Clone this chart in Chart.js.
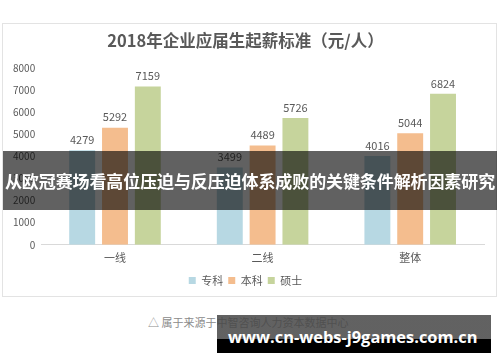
<!DOCTYPE html>
<html>
<head>
<meta charset="utf-8">
<script src="https://cdn.jsdelivr.net/npm/chart.js@4"></script>
<style>
  body { margin: 0; background: #fff; width: 500px; height: 362px; overflow: hidden; position: relative; font-family: "Noto Sans CJK SC", sans-serif; }
  #box { position: absolute; left: 2px; top: 23px; width: 493px; height: 272px; border: 1px solid #e3e3e3; }
  #box canvas { display: block; }
  #banner { position: absolute; left: 3px; top: 151px; width: 494px; height: 59px; background: rgba(0,0,0,0.62);
    color: #fff; font-weight: bold; font-size: 17px; line-height: 59px; text-align: center; white-space: nowrap; letter-spacing: -0.1px; }
  #caption { position: absolute; left: 148px; top: 314px; font-size: 11px; color: #8a8a8a; white-space: nowrap; }
  #url { position: absolute; left: 217px; top: 315px; width: 274px; height: 38px;
    background: linear-gradient(to bottom, rgba(70,70,70,0.85) 0, rgba(70,70,70,0.85) 24px, #000 24px, #000 100%); }
  #url span { position: absolute; left: 11px; top: 12px; color: #fff; font-family: "Open Sans", sans-serif; font-weight: bold; font-size: 16.4px; line-height: 20px; white-space: nowrap; }
</style>
</head>
<body>
<div id="box"><canvas id="chart" width="493" height="272"></canvas></div>
<div id="banner">从欧冠赛场看高位压迫与反压迫体系成败的关键条件解析因素研究</div>
<div id="caption">△ 属于来源于中智咨询人力资本数据中心</div>
<div id="url"><span>www.cn-webs-j9games.com.cn</span></div>
<script>
const categories = ["一线", "二线", "整体"];
const seriesNames = ["专科", "本科", "硕士"];
const zhuanke = [4279, 3499, 4016];
const benke = [5292, 4489, 5044];
const shuoshi = [7159, 5726, 6824];
const colors = ["#b7d8e3", "#f4bd8e", "#c6d49c"];

const font = "'Noto Sans CJK SC', sans-serif";

// draws the value above each bar
const valueLabels = {
  id: "valueLabels",
  afterDatasetsDraw(chart) {
    const ctx = chart.ctx;
    ctx.save();
    ctx.font = "11px " + font;
    ctx.fillStyle = "#595959";
    ctx.textAlign = "center";
    ctx.textBaseline = "bottom";
    chart.data.datasets.forEach((ds, i) => {
      chart.getDatasetMeta(i).data.forEach((bar, j) => {
        ctx.fillText(ds.data[j], bar.x, bar.y - 5);
      });
    });
    ctx.restore();
  },
};

new Chart(document.getElementById("chart").getContext("2d"), {
  type: "bar",
  data: {
    labels: categories,
    datasets: [zhuanke, benke, shuoshi].map((d, i) => ({
      label: seriesNames[i],
      data: d,
      backgroundColor: colors[i],
      barPercentage: 0.79,
      categoryPercentage: 0.667,
    })),
  },
  options: {
    responsive: false,
    animation: false,
    layout: { padding: { left: 4, right: 12, top: 0, bottom: 0 } },
    plugins: {
      title: {
        display: true,
        text: "2018年企业应届生起薪标准（元/人）",
        color: "#595959",
        font: { family: font, size: 16.5, weight: "bold" },
        padding: { top: 7, bottom: 17 },
      },
      legend: {
        position: "bottom",
        labels: {
          boxWidth: 7,
          boxHeight: 7,
          color: "#595959",
          font: { family: font, size: 11 },
          padding: 5,
        },
      },
      tooltip: { enabled: false },
    },
    scales: {
      x: {
        grid: { display: false, drawTicks: false },
        border: { color: "#d9d9d9" },
        ticks: { color: "#595959", font: { family: font, size: 11 }, padding: 6 },
      },
      y: {
        min: 0,
        max: 8000,
        grid: { display: false, drawTicks: false },
        border: { display: false },
        ticks: {
          stepSize: 1000,
          color: "#595959",
          font: { family: font, size: 10 },
          padding: 6,
          callback: (v) => String(v),
        },
      },
    },
  },
  plugins: [valueLabels],
});
</script>
</body>
</html>
